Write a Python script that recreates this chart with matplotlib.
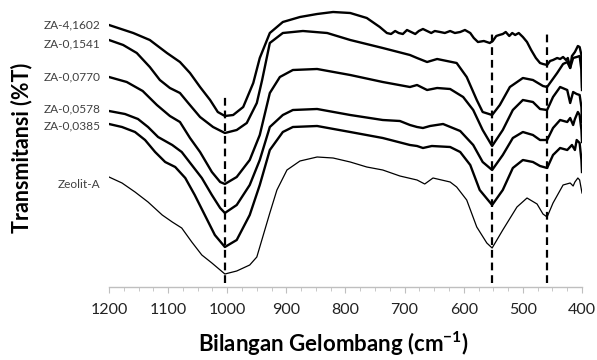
import matplotlib
matplotlib.use("Agg")
import matplotlib.pyplot as plt
from matplotlib.ticker import MultipleLocator

plt.rcParams['font.family'] = ['Lato', 'DejaVu Sans']
plt.rcParams['mathtext.fontset'] = 'custom'
plt.rcParams['mathtext.bf'] = 'Lato:bold'
plt.rcParams['mathtext.rm'] = 'Lato'

# wavenumber (cm-1) and transmittance (arb. units, stacked)
wn_za41602 = [1200, 1159, 1131, 1102, 1080, 1063, 1046, 1029, 1016, 1004, 990, 973, 956, 945, 928, 906,
              877, 848, 821, 792, 764, 742, 730, 723, 716, 710, 703, 696, 689, 682, 676, 669, 662, 655,
              649, 640, 632, 623, 615, 606, 598, 589, 583, 576, 566, 556, 551, 545, 540, 534, 529, 523,
              518, 513, 507, 500, 493, 486, 478, 471, 466, 459, 454, 449, 442, 437, 432, 427, 424, 420,
              417, 412, 407, 404, 401, 400]
t_za41602 = [262, 254, 247, 234, 225, 214, 200, 187, 175, 171, 172, 180, 204, 229, 254, 265,
             270, 273, 275, 274, 269, 260, 254, 253, 256, 254, 253, 257, 255, 253, 256, 258, 256, 254,
             256, 255, 254, 256, 254, 255, 257, 254, 249, 245, 246, 244, 246, 251, 252, 253, 255, 251,
             254, 252, 254, 250, 245, 237, 229, 224, 223, 222, 226, 227, 229, 228, 230, 227, 229, 219,
             231, 235, 241, 240, 232, 197]

wn_za01541 = [1200, 1176, 1153, 1131, 1114, 1097, 1080, 1066, 1046, 1024, 1004, 984, 967, 950, 941, 928,
              906, 872, 831, 792, 737, 691, 679, 662, 645, 612, 595, 578, 568, 552, 539, 522, 500, 483,
              466, 459, 442, 432, 425, 420, 415, 409, 404, 401, 400]
t_za01541 = [247, 242, 234, 220, 207, 199, 194, 184, 170, 160, 154, 157, 164, 184, 207, 244,
             254, 256, 254, 247, 239, 232, 229, 225, 228, 224, 210, 187, 175, 172, 182, 200, 209, 207,
             201, 200, 214, 223, 225, 219, 229, 230, 231, 217, 200]

wn_za00770 = [1200, 1170, 1143, 1119, 1097, 1080, 1063, 1046, 1026, 1012, 1004, 984, 962, 945, 928, 911,
              889, 848, 792, 737, 691, 679, 662, 645, 623, 601, 584, 568, 552, 534, 517, 500, 483, 471,
              459, 449, 437, 425, 420, 415, 409, 404, 401, 400]
t_za00770 = [210, 205, 196, 182, 171, 165, 149, 135, 115, 105, 103, 110, 127, 152, 194, 210,
             217, 218, 212, 205, 200, 202, 197, 199, 198, 190, 177, 157, 141, 157, 177, 187, 185, 178,
             177, 190, 200, 197, 184, 195, 193, 192, 180, 165]

wn_za00578 = [1200, 1173, 1151, 1134, 1117, 1093, 1077, 1060, 1043, 1026, 1012, 1004, 984, 962, 945, 928,
              906, 889, 848, 792, 737, 708, 691, 679, 669, 657, 635, 606, 584, 568, 552, 534, 517, 500,
              483, 471, 459, 449, 437, 425, 420, 415, 412, 407, 404, 401, 400]
t_za00578 = [176, 173, 168, 160, 150, 142, 135, 122, 109, 92, 79, 74, 82, 102, 127, 160,
             172, 177, 178, 172, 167, 166, 162, 160, 159, 161, 163, 156, 142, 125, 117, 132, 149, 155,
             152, 147, 147, 159, 167, 165, 169, 162, 168, 175, 172, 157, 145]

wn_za00385 = [1200, 1178, 1156, 1139, 1122, 1105, 1088, 1071, 1055, 1038, 1021, 1004, 984, 962, 945, 928,
              906, 889, 848, 792, 737, 691, 679, 669, 654, 623, 606, 589, 573, 552, 534, 517, 500, 483,
              471, 459, 449, 437, 425, 417, 412, 409, 404, 401, 400]
t_za00385 = [163, 160, 155, 147, 135, 125, 120, 109, 92, 72, 52, 40, 47, 72, 102, 137,
             155, 160, 161, 155, 149, 142, 141, 139, 141, 140, 135, 122, 97, 82, 97, 119, 127, 125,
             121, 119, 132, 139, 137, 142, 137, 147, 144, 127, 115]

wn_zeolit = [1200, 1178, 1156, 1134, 1110, 1093, 1077, 1060, 1043, 1026, 1012, 1004, 984, 962, 950, 945,
             928, 916, 899, 877, 848, 821, 792, 764, 737, 708, 679, 666, 652, 623, 612, 595, 578, 561,
             552, 534, 510, 493, 476, 466, 459, 449, 432, 420, 415, 412, 407, 404, 400]
t_zeolit = [110, 104, 95, 85, 72, 65, 59, 45, 32, 24, 17, 13, 16, 22, 30, 40,
            74, 97, 117, 126, 130, 129, 125, 120, 117, 111, 107, 103, 109, 105, 100, 87, 60, 44,
            39, 57, 80, 89, 83, 73, 70, 84, 102, 104, 101, 105, 109, 107, 94]

series = [
    ("ZA-4,1602", wn_za41602, t_za41602, 262),
    ("ZA-0,1541", wn_za01541, t_za01541, 243),
    ("ZA-0,0770", wn_za00770, t_za00770, 210),
    ("ZA-0,0578", wn_za00578, t_za00578, 178),
    ("ZA-0,0385", wn_za00385, t_za00385, 161),
    ("Zeolit-A", wn_zeolit, t_zeolit, 102),
]

# marked bands
band_pos = [1003, 553, 459]
band_top = [190, 254, 254]

fig = plt.figure(figsize=(5.97, 3.6), dpi=100)
ax = fig.add_axes([109 / 597, 73 / 360, 473 / 597, 280 / 360])

for name, wn, t, ylab in series:
    lw = 0.9 if name == "Zeolit-A" else 1.7
    ax.plot(wn, t, color="black", lw=lw, solid_joinstyle="round")
    ax.text(1214, ylab, name, ha="right", va="center", fontsize=8.6, color="#404040")

for x, top in zip(band_pos, band_top):
    ax.plot([x, x], [4, top], color="black", lw=1.6, ls=(0, (3.5, 2.2)))

ax.set_xlim(1200, 400)
ax.set_ylim(0, 280)
ax.set_yticks([])
for s in ["top", "right", "left"]:
    ax.spines[s].set_visible(False)
ax.spines["bottom"].set_color("#bfbfbf")
ax.spines["bottom"].set_linewidth(1.0)
ax.xaxis.set_major_locator(MultipleLocator(100))
ax.xaxis.set_minor_locator(MultipleLocator(25))
ax.tick_params(axis="x", which="major", length=4.5, color="#bfbfbf", labelsize=11.5,
               labelcolor="#222222", pad=7)
ax.tick_params(axis="x", which="minor", length=3, color="#bfbfbf")

fig.text(22 / 597, 1 - 148 / 360, "Transmitansi (%T)", rotation=90, ha="center", va="center",
         fontsize=15.5, fontweight="bold")
fig.text(333 / 597, 1 - 352 / 360, r"Bilangan Gelombang (cm$^{\mathbf{-1}}$)", ha="center",
         va="baseline", fontsize=16, fontweight="bold")

fig.savefig("out.png", dpi=100)
